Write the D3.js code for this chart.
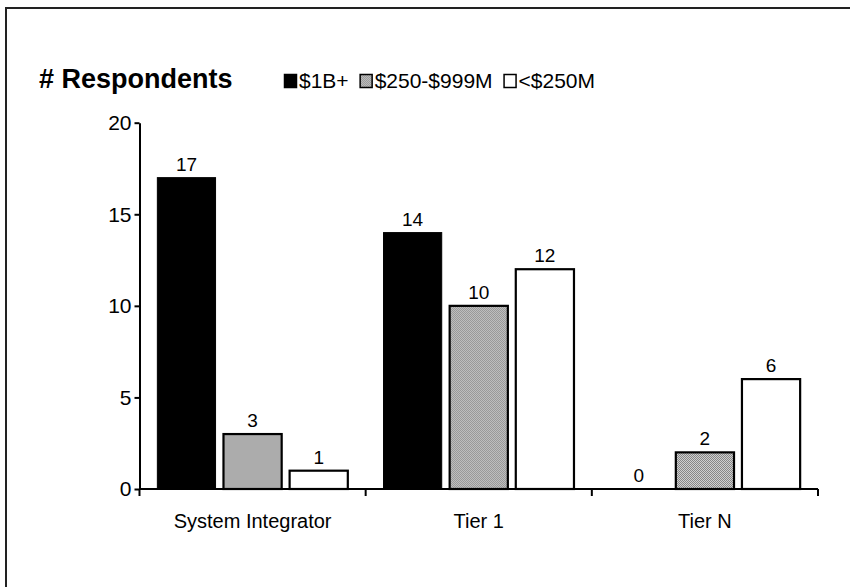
<!DOCTYPE html>
<html>
<head>
<meta charset="utf-8">
<script src="https://cdn.jsdelivr.net/npm/d3@7"></script>
<style>
  html, body { margin: 0; padding: 0; background: #fff; }
  svg { display: block; font-family: "Liberation Sans", Arial, sans-serif; }
</style>
</head>
<body>
<svg id="chart" width="850" height="587"></svg>
<script>
// Respondents by company revenue, per supplier type
const categories = ["System Integrator", "Tier 1", "Tier N"];
const seriesNames = ["$1B+", "$250-$999M", "<$250M"];
const revenue1B = [17, 14, 0];
const revenue250to999M = [3, 10, 2];
const revenueUnder250M = [1, 12, 6];
const yTicks = [0, 5, 10, 15, 20];

const seriesValues = [revenue1B, revenue250to999M, revenueUnder250M];
const rows = categories.map((c, i) => ({
  category: c,
  values: seriesNames.map((s, k) => ({ series: s, value: seriesValues[k][i] }))
}));

const svg = d3.select("#chart");
const defs = svg.append("defs");

// fine dithered grey used for the middle series
const pat = defs.append("pattern")
  .attr("id", "dither")
  .attr("width", 2).attr("height", 2)
  .attr("patternUnits", "userSpaceOnUse");
pat.append("rect").attr("width", 2).attr("height", 2).attr("fill", "#e2e2e2");
pat.append("rect").attr("x", 0).attr("y", 0).attr("width", 1).attr("height", 1).attr("fill", "#757575");
pat.append("rect").attr("x", 1).attr("y", 1).attr("width", 1).attr("height", 1).attr("fill", "#757575");

const fills = { "$1B+": "#000", "$250-$999M": "url(#dither)", "<$250M": "#fff" };

// outer frame (continues past the right and bottom edges)
svg.append("rect")
  .attr("x", 6).attr("y", 8).attr("width", 900).attr("height", 700)
  .attr("fill", "none").attr("stroke", "#222").attr("stroke-width", 2);

const plotLeft = 139.5, plotRight = 818, plotTop = 122.7, plotBottom = 489;

const x0 = d3.scaleBand().domain(categories).range([plotLeft, plotRight]).padding(0);
const x1 = d3.scaleBand().domain(seriesNames).range([0, x0.bandwidth()])
  .paddingInner(0.12).paddingOuter(0.27);
const y = d3.scaleLinear().domain([0, 20]).range([plotBottom, plotTop]);

// bars
const groups = svg.append("g").selectAll("g").data(rows).join("g")
  .attr("transform", d => `translate(${x0(d.category)},0)`);

groups.selectAll("rect").data(d => d.values.filter(v => v.value > 0)).join("rect")
  .attr("x", d => x1(d.series))
  .attr("y", d => y(d.value))
  .attr("width", x1.bandwidth())
  .attr("height", d => y(0) - y(d.value))
  .attr("fill", d => fills[d.series])
  .attr("stroke", "#000")
  .attr("stroke-width", d => d.series === "$1B+" ? 1 : 2.2);

// value labels
groups.selectAll("text").data(d => d.values).join("text")
  .attr("x", d => x1(d.series) + x1.bandwidth() / 2)
  .attr("y", d => y(d.value) - 7)
  .attr("text-anchor", "middle")
  .attr("font-size", 19)
  .attr("fill", "#000")
  .text(d => d.value);

// y axis
const yAxis = svg.append("g")
  .attr("transform", `translate(${plotLeft},0)`)
  .call(d3.axisLeft(y).tickValues(yTicks).tickSize(5).tickSizeOuter(0).tickPadding(3));
yAxis.select(".domain").attr("stroke", "#000").attr("stroke-width", 2);
yAxis.selectAll(".tick line").attr("stroke", "#000").attr("stroke-width", 2);
yAxis.selectAll(".tick text").attr("font-size", 21).attr("font-family", "Liberation Sans, Arial, sans-serif").attr("fill", "#000");

// x axis with ticks between categories
const xAxis = svg.append("g").attr("transform", `translate(0,${plotBottom})`);
xAxis.append("line")
  .attr("x1", plotLeft).attr("x2", plotRight).attr("y1", 0).attr("y2", 0)
  .attr("stroke", "#000").attr("stroke-width", 2);
const boundaries = categories.map(c => x0(c)).concat([plotRight]);
xAxis.selectAll("line.tick").data(boundaries).join("line")
  .attr("class", "tick")
  .attr("x1", d => d).attr("x2", d => d)
  .attr("y1", 0).attr("y2", 7)
  .attr("stroke", "#000").attr("stroke-width", 2);
xAxis.selectAll("text").data(categories).join("text")
  .attr("x", d => x0(d) + x0.bandwidth() / 2)
  .attr("y", 39)
  .attr("text-anchor", "middle")
  .attr("font-size", 20)
  .attr("fill", "#000")
  .text(d => d);

// title
svg.append("text")
  .attr("x", 39).attr("y", 88)
  .attr("font-size", 27).attr("font-weight", "bold")
  .attr("fill", "#000")
  .text("# Respondents");

// legend: swatch + label, laid out left to right
const legend = svg.append("g").attr("transform", "translate(284,74)");
let lx = 0;
seriesNames.forEach(name => {
  const item = legend.append("g").attr("transform", `translate(${lx},0)`);
  item.append("rect")
    .attr("x", 0.5).attr("y", 0.5).attr("width", 12).attr("height", 13)
    .attr("fill", fills[name])
    .attr("stroke", "#000").attr("stroke-width", 1.5);
  const t = item.append("text")
    .attr("x", 15).attr("y", 14)
    .attr("font-size", 21)
    .attr("fill", "#000")
    .text(name);
  lx += 15 + t.node().getComputedTextLength() + 11;
});
</script>
</body>
</html>
